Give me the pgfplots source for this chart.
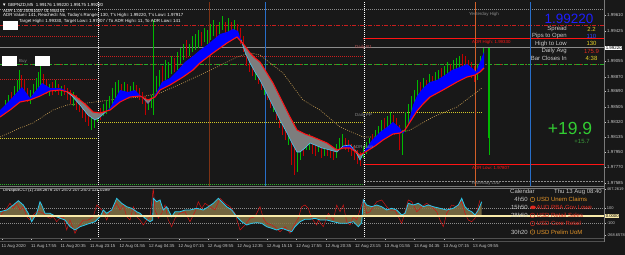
\documentclass[border=0pt]{standalone}
\usepackage{fontspec}
\setmainfont{Liberation Sans}
\usepackage{pgfplots}
\usepackage{pgfplotstable}
\pgfplotsset{compat=1.18}
\newcommand{\fsz}[1]{\fontsize{#1bp}{#1bp}\selectfont}
\definecolor{bg}{RGB}{24,24,24}
\definecolor{lgray}{RGB}{200,200,200}
\definecolor{mgray}{RGB}{140,140,140}
\definecolor{frame}{RGB}{120,120,120}
\definecolor{maRed}{RGB}{255,20,20}
\definecolor{lvRed}{RGB}{200,30,30}
\definecolor{r1col}{RGB}{190,90,90}
\definecolor{maCyan}{RGB}{80,200,230}
\definecolor{upBlue}{RGB}{0,0,255}
\definecolor{dnGray}{RGB}{125,125,125}
\definecolor{candleUp}{RGB}{0,185,0}
\definecolor{candleDn}{RGB}{195,0,0}
\definecolor{tanMA}{RGB}{190,150,80}
\definecolor{pivYellow}{RGB}{210,200,40}
\definecolor{lvGreen}{RGB}{40,170,40}
\definecolor{cciCyan}{RGB}{40,200,240}
\definecolor{cciRed}{RGB}{210,20,20}
\definecolor{cciFill}{RGB}{130,115,70}
\definecolor{zeroLine}{RGB}{250,235,170}
\definecolor{brownV}{RGB}{125,50,20}
\definecolor{orangeV}{RGB}{210,95,40}
\definecolor{blueV}{RGB}{40,110,200}
\definecolor{bigBlue}{RGB}{30,30,255}
\definecolor{valYellow}{RGB}{230,210,40}
\definecolor{valBlue}{RGB}{50,70,255}
\definecolor{bigGreen}{RGB}{50,205,50}
\definecolor{smGreen}{RGB}{60,160,60}
\definecolor{calOrange}{RGB}{230,150,40}
\definecolor{calRed}{RGB}{225,40,30}

\pgfplotstableread{
x y
0 117
10 110
20 102
30 100
40 96
50 91
60 90
68 92
75 96
85 104
93 112
100 113
110 110
120 102
130 97
140 96
148 100
155 97
160 90
170 85
183 77
193 70
200 63
213 53
227 43
237 37
245 46
250 53
255 58
260 62
265 70
273 83
283 103
290 117
297 130
305 134
313 137
327 143
337 150
343 148
350 148
360 155
367 151
375 146
383 140
393 134
400 133
405 130
410 122
417 111
423 104
430 97
443 90
457 82
467 77
475 75
480 72
484 68
}\slowMA

\pgfplotstableread{
x top bot
2 108 116
5 100 112
8 95 108
14 86 100
17 80 95
19 70 92
30 90 104
33 84 98
36 78 94
38 72 90
40 62 86
49 84 96
55 80 92
61 86 96
73 92 106
91 112 130
94 115 128
97 112 122
103 104 116
106 100 114
109 96 110
112 88 104
115 82 98
118 80 94
124 82 94
130 86 96
133 82 94
148 100 110
151 95 108
153 20 115
156 76 92
159 70 88
165 60 80
168 62 78
171 56 74
177 52 70
180 48 64
183 44 60
189 44 56
192 36 52
195 34 50
198 30 48
204 28 42
207 30 44
210 24 40
213 20 36
219 22 34
222 16 30
228 18 32
234 20 32
255 62 80
264 78 95
273 95 112
288 125 145
297 150 172
300 140 160
306 136 150
309 134 150
318 140 152
324 146 156
336 144 158
339 138 150
342 134 148
363 146 158
366 142 154
369 138 150
375 130 144
378 126 140
381 120 138
387 116 130
390 112 128
402 130 155
405 112 132
408 104 124
411 96 116
414 90 108
417 80 100
423 78 94
429 74 90
435 72 86
438 70 84
444 66 80
447 62 76
453 60 74
456 58 72
459 56 70
477 64 80
480 56 72
483 48 66
}\upCandles

\pgfplotstableread{
x top bot
11 92 104
21 75 90
24 80 95
27 88 102
43 74 90
46 80 94
52 82 95
58 84 95
64 85 95
67 88 100
70 90 104
76 95 110
79 98 112
82 104 118
85 105 122
88 110 126
100 108 120
121 84 96
127 84 96
136 85 97
139 88 100
142 92 104
145 96 115
162 66 84
174 58 72
186 40 58
201 32 46
216 26 38
225 22 36
231 22 34
237 24 36
240 28 44
243 36 52
246 50 66
249 56 72
252 60 76
258 68 84
261 74 90
267 86 100
270 92 108
276 104 120
279 110 128
282 115 135
285 122 140
291 132 165
294 140 175
303 138 156
312 140 154
315 142 156
321 144 158
327 144 156
330 146 158
333 148 160
345 138 150
348 140 152
351 144 156
354 146 160
357 150 164
360 152 166
372 134 148
384 118 134
393 115 130
396 118 134
399 125 150
420 82 98
426 80 92
432 76 90
441 68 82
450 64 78
462 54 68
465 56 72
468 60 74
471 62 78
474 66 82
}\dnCandles

\pgfplotstableread{
x y
0 137
20 128
33 123
53 110
67 105
87 103
110 100
140 97
160 93
183 83
200 75
217 67
237 57
250 53
260 55
283 73
303 100
320 110
340 127
363 137
377 137
400 133
410 130
433 117
457 107
482 88
}\longMA

\pgfplotstableread{
x y
0 211.7
6.7 210
13.3 205
18.3 200.7
23.3 205
28.3 213.3
31.7 221.7
36.7 213.3
40 201.7
41.7 205
45 213.3
50 213.3
55 216
60 218.3
65 220
70 226.7
75 230
80 226.7
85 225
90 223.3
95 221.7
100 216.7
103.3 210
106.7 213.3
111.7 210
116.7 198.3
121.7 203.3
126.7 206.7
131.7 208.3
136.7 211.7
140 213.3
145 218.3
150 221.7
152.7 220
153.3 198.3
156.7 201.7
160 200
163.3 210
166.7 206.7
170 213.3
171.7 216.7
175 211.7
180 211.7
185 210
190 210
196.7 208.3
203.3 210
208.3 206.7
213.3 203.3
218.3 198.3
221.7 201.7
226.7 206.7
231.7 210
236.7 216.7
241.7 221.7
246.7 225
251.7 223.3
256.7 222.7
261.7 223.3
266.7 226.7
271.7 228.3
276.7 230
281.7 228.3
286.7 230
291.7 231.7
295 226.7
300 221.7
305 219.3
310 219.3
315 218.3
320 220
326.7 220
333.3 221.7
340 223.3
346.7 223.3
353.3 221.7
358.3 226.7
361.7 222.7
363.3 200
366.7 205
371.7 206.7
376.7 205
381.7 206.7
386.7 210
391.7 208.3
396.7 210
401.7 215
405 213.3
408.3 203.3
413.3 205
418.3 203.3
423.3 206.7
428.3 205
433.3 206.7
440 208.3
446.7 210
453.3 208.3
458.3 205
461.7 198.3
465 206.7
468.3 210
471.7 211.7
475 215
478.3 210
481.7 201.7
}\cciSlow

\pgfplotstableread{
x y
0 216.7
3.3 211.7
6.7 208.3
10 203.3
13.3 208.3
16.7 203.3
20 210
23.3 206.7
26.7 216.7
30 220
33.3 215
36.7 211.7
40 211.7
43.3 213.3
46.7 216.7
50 218.3
53.3 216.7
56.7 221.7
60 218.3
63.3 216.7
66.7 230
70 220
75 233.3
78.3 226.7
83.3 220
88.3 220
93.3 216.7
96.7 205
100 208.3
103.3 211.7
106.7 220
110 211.7
113.3 208.3
116.7 203.3
120 210
123.3 205
126.7 216.7
130 220
133.3 206.7
136.7 216.7
140 220
143.3 225
146.7 220
150 216.7
153.3 188.3
155 210
158.3 218.3
161.7 213.3
165 205
168.3 220
171.7 226.7
175 218.3
180 213.3
185 211.7
190 221.7
195 211.7
198.3 201.7
201.7 208.3
205 203.3
210 206.7
215 210
220 198.3
225 203.3
230 206.7
235 213.3
240 230
245 225
250 218.3
255 216.7
260 206.7
263.3 218.3
266.7 223.3
271.7 225
276.7 228.3
280 231.7
285 226.7
290 233.3
293.3 226.7
298.3 218.3
301.7 206.7
305 205
308.3 208.3
311.7 218.3
316.7 225
318.3 220
323.3 226.7
328.3 213.3
333.3 220
336.7 205
340 211.7
343.3 205
346.7 221.7
350 225
353.3 216.7
356.7 220
360 210
363.3 200
366.7 213.3
370 211.7
376.7 201.7
381.7 200
386.7 206.7
390 210
395 210
398.3 216.7
401.7 223.3
405 211.7
408.3 200
411.7 201.7
416.7 211.7
421.7 206.7
426.7 203.3
431.7 206.7
436.7 211.7
440 220
443.3 226.7
446.7 213.3
451.7 205
456.7 206.7
461.7 201.7
465 213.3
468.3 220
471.7 221.7
475 218.3
480 200
}\cciFast

\begin{document}
\begin{tikzpicture}
\fill[bg] (0bp,0bp) rectangle (625bp,-255bp);
\path[use as bounding box] (0bp,0bp) rectangle (625bp,-255bp);

% ================= MAIN PRICE PANEL =================
\begin{axis}[
  at={(0bp,-186bp)}, anchor=south west,
  scale only axis, width=604bp, height=184bp,
  xmin=0, xmax=604, ymin=2, ymax=186, y dir=reverse,
  clip=false,
  axis line style={draw=none},
  xtick=\empty,
  ytick={15.3,31,61,76.7,91,106.7,121.7,136.7,152.3,167.3,182.7},
  yticklabels={1.99610,1.99425,1.99055,1.98870,1.98690,1.98505,1.98320,1.98135,1.97950,1.97770,1.97585},
  ytick pos=right, yticklabel pos=right,
  tick align=outside, major tick length=2bp,
  tick style={lgray, line width=0.4pt},
  yticklabel style={font=\fsz{4.4}, text=lgray, anchor=west, inner sep=0pt, xshift=1bp},
  /pgf/number format/assume math mode=true,
]
% level lines
\addplot[mgray, line width=0.4pt, dash pattern=on 1bp off 1bp] coordinates {(0,9.5) (604,9.5)};
\addplot[lvRed, line width=0.5pt, dash pattern=on 4bp off 1.5bp on 1bp off 1.5bp] coordinates {(0,25) (604,25)};
\addplot[lvRed, line width=0.5pt, dash pattern=on 1bp off 1bp] coordinates {(0,36) (98,36)};
\addplot[lvRed, line width=0.5pt, dash pattern=on 1bp off 1bp] coordinates {(98,56) (363,56)};
\addplot[lvRed, line width=0.5pt, dash pattern=on 1bp off 1bp] coordinates {(0,79) (98,79)};
\addplot[lvRed, line width=0.6pt, dash pattern=on 2bp off 3bp] coordinates {(0,64) (604,64)};
\addplot[lvGreen, line width=0.6pt, dash pattern=on 4bp off 1.5bp on 1bp off 1.5bp] coordinates {(0,64) (604,64)};
\addplot[pivYellow, line width=0.6pt, dash pattern=on 1bp off 1bp] coordinates {(0,138) (98,138)};
\addplot[pivYellow, line width=0.6pt, dash pattern=on 1bp off 1bp] coordinates {(98,122) (363,122)};
\addplot[pivYellow, line width=0.6pt, dash pattern=on 1bp off 1bp] coordinates {(363,112) (482,112)};
\addplot[lvGreen, line width=0.6pt, dash pattern=on 1bp off 1bp] coordinates {(0,184.5) (364,184.5)};
\addplot[mgray, line width=0.4pt, dash pattern=on 2bp off 1bp] coordinates {(364,181) (604,181)};
\addplot[mgray, line width=0.7pt] coordinates {(0,47.5) (604,47.5)};
\addplot[maRed, line width=1pt] coordinates {(363,38) (604,38)};
\addplot[maRed, line width=1pt] coordinates {(363,164) (604,164)};
% vertical lines
\addplot[white, line width=0.4pt, dash pattern=on 1bp off 1bp] coordinates {(98,2) (98,186)};
\addplot[white, line width=0.4pt, dash pattern=on 1bp off 1bp] coordinates {(364,2) (364,186)};
\addplot[brownV, line width=1pt] coordinates {(209.5,2) (209.5,186)};
\addplot[orangeV, line width=0.7pt] coordinates {(475,2) (475,186)};
\addplot[blueV, line width=0.6pt] coordinates {(265,2) (265,186)};
\addplot[blueV, line width=0.6pt] coordinates {(530,2) (530,186)};
% long moving average
\addplot[tanMA, line width=0.6pt, dash pattern=on 1bp off 1.2bp] table {\longMA};
% candles (high-low ranges)
\addplot[draw=none, mark=none, error bars/.cd, y dir=plus, y explicit, error mark=none, error bar style={draw=candleUp, line width=0.9pt, solid}] table[x=x, y=top, y error plus expr=\thisrow{bot}-\thisrow{top}] {\upCandles};
\addplot[draw=none, mark=none, error bars/.cd, y dir=plus, y explicit, error mark=none, error bar style={draw=candleDn, line width=0.9pt, solid}] table[x=x, y=top, y error plus expr=\thisrow{bot}-\thisrow{top}] {\dnCandles};
% ribbon between fast MA and slow MA: blue overall
\addplot[fill=upBlue, draw=none] coordinates {
(0,110)(10,100)(22,87)(30,98)(42,83)(50,88)(60,88)(65,90)(72,96)(80,105)(88,115)(95,120)(100,117)(110,108)(120,90)(128,92)(135,90)(142,97)(148,104)(155,95)(162,82)(170,78)(178,70)(185,62)(193,56)(200,50)(207,45)(213,40)(220,34)(227,32)(233,29)(238,31)(241,39.8)(245,52)(250,63)(255,72)(260,80)(265,90)(270,100)(275,110)(280,120)(287,133)(292,143)(297,152)(300,152)(305,148)(310,143)(315,145)(322,148)(330,150)(337,152)(343,146)(350,145)(356,152)(360,160)(365,150)(372,140)(380,132)(387,127)(393,122)(400,128)(403,134)(408,125)(413,105)(417,96)(423,88)(430,82)(437,80)(445,75)(452,70)(460,67)(467,64)(472,68)(476,72)(480,62)(484,52)
(484,68)(480,72)(475,75)(467,77)(457,82)(443,90)(430,97)(423,104)(417,111)(410,122)(405,130)(400,133)(393,134)(383,140)(375,146)(367,151)(360,155)(350,148)(343,148)(337,150)(327,143)(313,137)(305,134)(297,130)(290,117)(283,103)(273,83)(265,70)(260,62)(255,58)(250,53)(245,46)(237,37)(227,43)(213,53)(200,63)(193,70)(183,77)(170,85)(160,90)(155,97)(148,100)(140,96)(130,97)(120,102)(110,110)(100,113)(93,112)(85,104)(75,96)(68,92)(60,90)(50,91)(40,96)(30,100)(20,102)(10,110)(0,117)
} -- cycle;
% gray down-trend parts
\addplot[fill=dnGray, draw=none] coordinates {
(66,91)(72,96)(80,105)(88,115)(95,120)(100,117)(106,111.6)(106,111.2)(100,113)(93,112)(85,104)(75,96)(68,92)(66,91.5)} -- cycle;
\addplot[fill=dnGray, draw=none] coordinates {
(142,97)(148,104)(153,97.6)(153,97.9)(148,100)(142,96.8)} -- cycle;
\addplot[fill=dnGray, draw=none] coordinates {
(241,39.8)(245,52)(250,63)(255,72)(260,80)(265,90)(270,100)(275,110)(280,120)(287,133)(292,143)(297,152)(300,152)(305,148)(310,143)(315,145)(322,148)(330,150)(337,152)(340,149)(337,150)(327,143)(313,137)(305,134)(297,130)(290,117)(283,103)(273,83)(265,70)(260,62)(255,58)(250,53)(245,46)(241,40.3)} -- cycle;
\addplot[fill=dnGray, draw=none] coordinates {
(355,150.8)(360,160)(363,154)(363,153.3)(360,155)(355,149.4)} -- cycle;
% fast MA visible in down-trend parts
\addplot[maCyan, line width=0.6pt] coordinates {(66,91)(72,96)(80,105)(88,115)(95,120)(100,117)(106,111.6)};
\addplot[maCyan, line width=0.6pt] coordinates {(241,39.8)(245,52)(250,63)(255,72)(260,80)(265,90)(270,100)(275,110)(280,120)(287,133)(292,143)(297,152)(300,152)(305,148)(310,143)(315,145)(322,148)(330,150)(337,152)(343,146)(350,145)(356,152)(360,160)(363,154)};
\addplot[maRed, line width=1.1pt] table {\slowMA};
% daily bar
\addplot[candleUp, line width=2pt] coordinates {(489,48) (489,138)};
\addplot[candleUp, line width=0.6pt] coordinates {(489,138) (489,155)};
% current price box
\node[fill=white, text=black, inner sep=0.6bp, font=\fsz{4.4}, anchor=west] at (axis cs:605,47.7) {1.99220};
% header texts
\node[anchor=west, inner sep=0pt, text=white, font=\fsz{4.4}] at (axis cs:2,5) {▼ GBPNZD,M5\ \ 1.99176 1.99220 1.99175 1.99220};
\node[anchor=west, inner sep=0pt, text=white, font=\fsz{4.4}] at (axis cs:3,10.5) {ADR 1.00 20051007 01 Mod 01};
\node[anchor=west, inner sep=0pt, text=white, font=\fsz{4.4}] at (axis cs:3,15.5) {ADR Value= 141, Reached= No, Today's Range= 130, T's High= 1.99220, T's Low= 1.97917};
\fill[white] (axis cs:3,20.7) rectangle (axis cs:18,30);
\node[anchor=west, inner sep=0pt, text=white, font=\fsz{4.4}] at (axis cs:19,21.5) {Target High= 1.99330, Target Low= 1.97807 / To ADR High= 11, To ADR Low= 141};
\fill[white] (axis cs:2,56) rectangle (axis cs:17,66);
\fill[white] (axis cs:35,56) rectangle (axis cs:50,66);
\node[anchor=west, inner sep=0pt, text=mgray, font=\fsz{4.4}] at (axis cs:19,61) {Buy};
% level labels
\node[anchor=east, inner sep=0pt, text=mgray, font=\fsz{4.4}] at (axis cs:499,14) {Yesterday High};
\node[anchor=west, inner sep=0pt, text=maRed, font=\fsz{4.4}] at (axis cs:472,42) {ADR High: 1.99330};
\node[anchor=west, inner sep=0pt, text=r1col, font=\fsz{4.4}] at (axis cs:355,47.5) {Daily R1};
\node[anchor=west, inner sep=0pt, text=mgray, font=\fsz{4.4}] at (axis cs:355,115.5) {Daily PP};
\node[anchor=west, inner sep=0pt, text=mgray, font=\fsz{4.4}] at (axis cs:353,147) {ADR Gain};
\node[anchor=west, inner sep=0pt, text=maRed, font=\fsz{4.4}] at (axis cs:472,168) {ADR Low: 1.97807};
\node[anchor=east, inner sep=0pt, text=mgray, font=\fsz{4.4}] at (axis cs:500,183.5) {Yesterday Low};
% info panel
\node[inner sep=0pt, text=bigBlue, font=\fsz{13.5}] at (axis cs:569,18.5) {1.99220};
\node[anchor=east, inner sep=0pt, text=lgray, font=\fsz{6}] at (axis cs:567,29) {Spread};
\node[anchor=east, inner sep=0pt, text=lgray, font=\fsz{6}] at (axis cs:567,36.3) {Pips to Open};
\node[anchor=east, inner sep=0pt, text=lgray, font=\fsz{6}] at (axis cs:567,43.6) {High to Low};
\node[anchor=east, inner sep=0pt, text=lgray, font=\fsz{6}] at (axis cs:567,51) {Daily Avg};
\node[anchor=east, inner sep=0pt, text=lgray, font=\fsz{6}] at (axis cs:567,58.3) {Bar Closes In};
\node[inner sep=0pt, text=valYellow, font=\fsz{6}] at (axis cs:591.5,29) {2.2};
\node[inner sep=0pt, text=valBlue, font=\fsz{6}] at (axis cs:591.5,36.3) {110};
\node[inner sep=0pt, text=valYellow, font=\fsz{6}] at (axis cs:591.5,43.6) {130};
\node[inner sep=0pt, text=calRed, font=\fsz{6}] at (axis cs:591.5,51) {175.9};
\node[inner sep=0pt, text=valYellow, font=\fsz{6}] at (axis cs:591.5,58.3) {4:38};
\node[inner sep=0pt, text=bigGreen, font=\fsz{17.5}] at (axis cs:570,128) {+19.9};
\node[inner sep=0pt, text=smGreen, font=\fsz{6}] at (axis cs:582,141.5) {+15.7};
\end{axis}

% ================= CCI PANEL =================
\begin{axis}[
  at={(0bp,-238bp)}, anchor=south west,
  scale only axis, width=604bp, height=50bp,
  xmin=0, xmax=604, ymin=188, ymax=238, y dir=reverse,
  clip=false,
  axis line style={draw=none},
  xtick={2,31.45,60.9,90.35,119.8,149.25,178.7,208.15,237.6,267.05,296.5,325.95,355.4,384.85,414.3,443.75,473.2},
  xticklabels={11 Aug 2020,11 Aug 17:55,11 Aug 20:35,11 Aug 23:15,12 Aug 01:55,12 Aug 04:35,12 Aug 07:15,12 Aug 09:55,12 Aug 12:35,12 Aug 15:15,12 Aug 17:55,12 Aug 20:35,12 Aug 23:15,13 Aug 01:55,13 Aug 04:35,13 Aug 07:15,13 Aug 09:55},
  xtick pos=bottom,
  xticklabel style={font=\fsz{4.3}, text=lgray, anchor=north west, inner sep=0pt, xshift=-0.5bp, yshift=-4.5bp},
  ytick={189.5,208,223,235},
  yticklabels={467.2619,100,-100,-268.6578},
  ytick pos=right, yticklabel pos=right,
  tick align=outside, major tick length=2bp,
  tick style={lgray, line width=0.4pt},
  yticklabel style={font=\fsz{4}, text=lgray, anchor=west, inner sep=0pt, xshift=0.6bp},
  /pgf/number format/assume math mode=true,
]
\addplot[mgray, line width=0.4pt, dash pattern=on 1bp off 1bp] coordinates {(0,208) (604,208)};
\addplot[mgray, line width=0.4pt, dash pattern=on 1bp off 1bp] coordinates {(0,223) (604,223)};
\addplot[white, line width=0.4pt, dash pattern=on 1bp off 1bp] coordinates {(98,188) (98,238)};
\addplot[white, line width=0.4pt, dash pattern=on 1bp off 1bp] coordinates {(364,188) (364,238)};
\addplot[fill=cciFill, draw=none, fill opacity=0.85] table {\cciSlow} -- (axis cs:481.7,216) -- (axis cs:0,216) -- cycle;
\addplot[cciRed, line width=0.5pt] table {\cciFast};
\addplot[cciCyan, line width=0.8pt] table {\cciSlow};
\addplot[zeroLine, line width=1.1pt] coordinates {(0,216) (604,216)};
\node[fill=zeroLine, text=black, inner sep=0.6bp, font=\fsz{4.2}, anchor=west] at (axis cs:605,216) {0.0000};
\node[anchor=west, inner sep=0pt, text=white, font=\fsz{4.3}] at (axis cs:3,190) {DiNapoliCCI (1) 208.2676 207.2572 207.2572 121.0289};
% calendar
\node[anchor=west, inner sep=0pt, text=lgray, font=\fsz{6}] at (axis cs:510,191.5) {Calendar};
\node[anchor=east, inner sep=0pt, text=lgray, font=\fsz{6}] at (axis cs:602,191.5) {Thu 13 Aug 08:40};
\node[anchor=east, inner sep=0pt, text=lgray, font=\fsz{6}] at (axis cs:528,199.5) {4h50};
\node[anchor=east, inner sep=0pt, text=lgray, font=\fsz{6}] at (axis cs:528,207.3) {15h50};
\node[anchor=east, inner sep=0pt, text=lgray, font=\fsz{6}] at (axis cs:528,215.3) {28h50};
\node[anchor=east, inner sep=0pt, text=lgray, font=\fsz{6}] at (axis cs:528,232) {30h20};
\node[circle, draw=calOrange, line width=0.4pt, inner sep=0pt, minimum size=4.6bp, text=calOrange, font=\fsz{3.6}] at (axis cs:532.5,199.5) {!};
\fill[calRed] (axis cs:533,207.3) ellipse [x radius=2.8bp, y radius=1.8bp];
\node[circle, draw=calRed, line width=0.4pt, inner sep=0pt, minimum size=4.6bp, text=calRed, font=\fsz{3.6}] at (axis cs:532.5,215.3) {!};
\node[circle, draw=calRed, line width=0.4pt, inner sep=0pt, minimum size=4.6bp, text=calRed, font=\fsz{3.6}] at (axis cs:532.5,223.5) {!};
\node[circle, draw=calOrange, line width=0.4pt, inner sep=0pt, minimum size=4.6bp, text=calOrange, font=\fsz{3.6}] at (axis cs:532.5,232) {!};
\node[anchor=west, inner sep=0pt, text=calOrange, font=\fsz{6}] at (axis cs:536.5,199.5) {USD Unem Claims};
\node[anchor=west, inner sep=0pt, text=calRed, font=\fsz{6}] at (axis cs:536.5,207.3) {AUD RBA Gov Lowe};
\node[anchor=west, inner sep=0pt, text=calRed, font=\fsz{6}] at (axis cs:536.5,215.3) {USD Retail Sales};
\node[anchor=west, inner sep=0pt, text=calRed, font=\fsz{6}] at (axis cs:536.5,223.5) {USD Core Retail};
\node[anchor=west, inner sep=0pt, text=calOrange, font=\fsz{6}] at (axis cs:536.5,232) {USD Prelim UoM};
\end{axis}

% frame lines
\draw[frame, line width=0.6pt] (604bp,0bp) -- (604bp,-242bp);
\draw[frame, line width=0.8pt] (0bp,-186.6bp) -- (604bp,-186.6bp);
\draw[frame, line width=0.5pt] (0bp,-188bp) -- (604bp,-188bp);
\draw[frame!130, line width=0.8pt] (0bp,-238.6bp) -- (604bp,-238.6bp);
\draw[frame!130, line width=0.8pt] (0bp,-241bp) -- (604bp,-241bp);
\end{tikzpicture}
\end{document}
